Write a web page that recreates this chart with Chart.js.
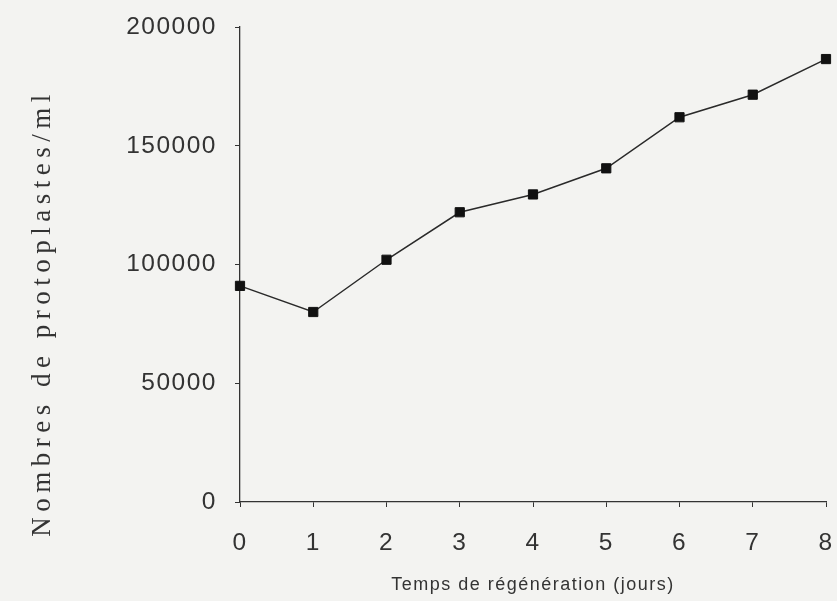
<!DOCTYPE html>
<html>
<head>
<meta charset="utf-8">
<script src="https://cdn.jsdelivr.net/npm/chart.js@4/dist/chart.umd.min.js"></script>
<style>
  html, body { margin: 0; padding: 0; background: #f3f3f1; }
  #wrap { width: 837px; height: 601px; }
</style>
</head>
<body>
<div id="wrap"><canvas id="chart" width="837" height="601"></canvas></div>
<script>
// data
const days = ['0', '1', '2', '3', '4', '5', '6', '7', '8'];
const protoplasts = [91000, 80000, 102000, 122000, 129500, 140500, 162000, 171500, 186500];
const yTicks = [0, 50000, 100000, 150000, 200000];
const xTitle = 'Temps de régénération (jours)';
const yTitle = 'Nombres de protoplastes/ml';

const ink = '#333';

// the scan has wide letter spacing; set it while the chart draws
const spacing = {
  id: 'spacing',
  beforeDraw(chart) { chart.ctx.letterSpacing = '1.5px'; },
  afterDraw(chart) {
    const ctx = chart.ctx;
    ctx.letterSpacing = '0px';
    // rotated serif y title with its own wide spacing
    ctx.save();
    ctx.translate(50, 313);
    ctx.rotate(-Math.PI / 2);
    ctx.font = '27px "Liberation Serif"';
    ctx.letterSpacing = '5.5px';
    ctx.fillStyle = ink;
    ctx.textAlign = 'center';
    ctx.textBaseline = 'alphabetic';
    ctx.fillText(yTitle, 0, 0);
    ctx.restore();
  }
};

new Chart(document.getElementById('chart').getContext('2d'), {
  type: 'line',
  data: {
    labels: days,
    datasets: [{
      data: protoplasts,
      borderColor: '#2a2a2a',
      borderWidth: 1.5,
      pointStyle: 'rect',
      pointRadius: 6.5,
      pointBorderWidth: 1,
      pointBackgroundColor: '#111',
      pointBorderColor: '#111',
      tension: 0
    }]
  },
  options: {
    responsive: false,
    animation: false,
    layout: { padding: { top: 27, right: 11, left: 0, bottom: 0 } },
    plugins: { legend: { display: false }, tooltip: { enabled: false } },
    scales: {
      x: {
        offset: false,
        grid: { drawOnChartArea: false, drawTicks: true, tickLength: 5, color: ink },
        border: { color: ink, width: 1.3 },
        ticks: { color: ink, padding: 22, font: { family: '"Liberation Sans"', size: 24.5 }, maxRotation: 0 },
        title: { display: true, text: xTitle, color: ink, font: { family: '"Liberation Sans"', size: 18 }, padding: { top: 0, bottom: 5 } },
        afterFit(scale) {
          scale.height = 99;
          scale.paddingLeft = 0;
          scale.paddingRight = 0;
        }
      },
      y: {
        min: 0,
        max: 200000,
        afterBuildTicks(scale) { scale.ticks = yTicks.map(v => ({ value: v })); },
        grid: { drawOnChartArea: false, drawTicks: true, tickLength: 5, color: ink },
        border: { color: ink, width: 1.3 },
        ticks: { color: ink, padding: 18, font: { family: '"Liberation Sans"', size: 24.5 }, callback: v => String(v) },
        afterFit(scale) {
          scale.width = 240;
          scale.paddingTop = 0;
          scale.paddingBottom = 0;
        }
      }
    }
  },
  plugins: [spacing]
});
</script>
</body>
</html>
